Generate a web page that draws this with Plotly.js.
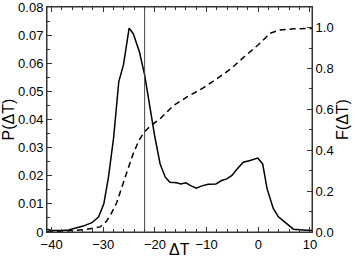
<!DOCTYPE html>
<html>
<head>
<meta charset="utf-8">
<script src="https://cdn.plot.ly/plotly-3.0.1.min.js"></script>
<style>
  html, body { margin: 0; padding: 0; background: #fff; overflow: hidden; }
  #chart { width: 354px; height: 259px; }
</style>
</head>
<body>
<div id="chart"></div>
<script>
// P(dT) - probability density (left axis)
const dtP = [-40.9, -40, -38, -36.7, -35.5, -33.9, -32.2, -30.9, -29.9, -29, -28, -27, -26.1, -25,
             -24.2, -23, -22, -21.1, -20, -19, -18, -17.1, -15.8, -15, -14, -13.1, -12, -10.9, -9.7,
             -8.2, -7.1, -6.1, -5.1, -4.1, -2.9, -1.6, -0.1, 0.85, 1.7, 2.9, 3.9, 5.5, 6.8, 8.7, 10.4];
const pVals = [0.0010, 0.0005, 0.0005, 0.0007, 0.0013, 0.0021, 0.0033, 0.0054, 0.0100, 0.0195, 0.0336,
               0.0535, 0.0594, 0.0725, 0.0705, 0.0640, 0.0559, 0.0453, 0.0336, 0.0242, 0.0195, 0.0177,
               0.0175, 0.0171, 0.0175, 0.0165, 0.0156, 0.0164, 0.0170, 0.0171, 0.0183, 0.0189, 0.0201,
               0.0224, 0.0248, 0.0254, 0.0263, 0.0242, 0.0154, 0.0084, 0.0054, 0.0030, 0.0010, 0.0007,
               0.0005];

// F(dT) - cumulative (right axis)
const dtF = [-40.9, -37.4, -33.5, -30.6, -29.4, -28.4, -27.4, -26.3, -25.3, -24.2, -23.1, -22.1, -20.8,
             -19, -16.5, -13.8, -10.6, -7.7, -5.1, -2.6, 0, 2.3, 4.2, 6.8, 10.4];
const fVals = [0.002, 0.004, 0.012, 0.025, 0.052, 0.093, 0.144, 0.222, 0.303, 0.384, 0.448, 0.488, 0.521,
               0.554, 0.617, 0.661, 0.706, 0.755, 0.803, 0.860, 0.916, 0.972, 0.989, 0.994, 0.996];

const pTicks = [0, 0.01, 0.02, 0.03, 0.04, 0.05, 0.06, 0.07, 0.08];
const pTickText = ['0', '0.01', '0.02', '0.03', '0.04', '0.05', '0.06', '0.07', '0.08'];

const markerLine = -22;
const xRange = [-40.9, 10.4];

const tickFont = { family: 'Liberation Sans, Arial, sans-serif', size: 13, color: '#000' };
const titleFont = { family: 'Liberation Sans, Arial, sans-serif', size: 16, color: '#000' };

const traces = [
  { x: dtP, y: pVals, type: 'scatter', mode: 'lines',
    line: { color: '#000', width: 1.5 }, yaxis: 'y', hoverinfo: 'skip' },
  { x: dtF, y: fVals, type: 'scatter', mode: 'lines',
    line: { color: '#000', width: 1.5, dash: '6px,4px' }, yaxis: 'y2', hoverinfo: 'skip' },
  // invisible trace so the top axis (ticks) is drawn
  { x: xRange, y: [0, 0], type: 'scatter', mode: 'lines', line: { width: 0 },
    xaxis: 'x2', yaxis: 'y', hoverinfo: 'skip' }
];

const axisCommon = {
  ticks: 'inside', ticklen: 5, tickcolor: '#333',
  showgrid: false, zeroline: false,
  showline: true, linecolor: '#333', linewidth: 1,
  tickfont: tickFont, ticklabeloverflow: 'allow'
};

const layout = {
  width: 354, height: 259,
  margin: { l: 47, r: 42, t: 7, b: 27 },
  showlegend: false,
  paper_bgcolor: '#fff', plot_bgcolor: '#fff',
  xaxis: Object.assign({}, axisCommon, {
    range: xRange, dtick: 10, tick0: 0,
    minor: { dtick: 2, ticks: 'inside', ticklen: 3, tickcolor: '#333' }
  }),
  xaxis2: Object.assign({}, axisCommon, {
    overlaying: 'x', side: 'top', anchor: 'y',
    range: xRange, dtick: 10, tick0: 0, showticklabels: false,
    minor: { dtick: 2, ticks: 'inside', ticklen: 3, tickcolor: '#333' }
  }),
  yaxis: Object.assign({}, axisCommon, {
    range: [0, 0.08], tickmode: 'array', tickvals: pTicks, ticktext: pTickText,
    minor: { dtick: 0.005, ticks: 'inside', ticklen: 3, tickcolor: '#333' },
    title: { text: 'P(ΔT)', font: titleFont, standoff: 2 }
  }),
  yaxis2: Object.assign({}, axisCommon, {
    overlaying: 'y', side: 'right',
    range: [0, 1.101], dtick: 0.2, tickformat: '.1f',
    minor: { dtick: 0.1, ticks: 'inside', ticklen: 3, tickcolor: '#333' },
    title: { text: 'F(ΔT)', font: titleFont, standoff: 2 }
  }),
  annotations: [
    { text: 'ΔT', xref: 'paper', yref: 'paper', x: 0.5, y: 0, xanchor: 'center', yanchor: 'middle',
      yshift: -17, showarrow: false, font: { family: titleFont.family, size: 16, color: '#000' } }
  ],
  shapes: [
    { type: 'rect', xref: 'paper', yref: 'paper', x0: 0, x1: 1, y0: 0, y1: 1,
      line: { color: '#333', width: 1 }, fillcolor: 'rgba(0,0,0,0)' },
    { type: 'line', xref: 'x', yref: 'paper', x0: markerLine, x1: markerLine, y0: 0, y1: 1,
      line: { color: '#444', width: 1 } }
  ]
};

Plotly.newPlot('chart', traces, layout, { staticPlot: true, displayModeBar: false });
</script>
</body>
</html>
